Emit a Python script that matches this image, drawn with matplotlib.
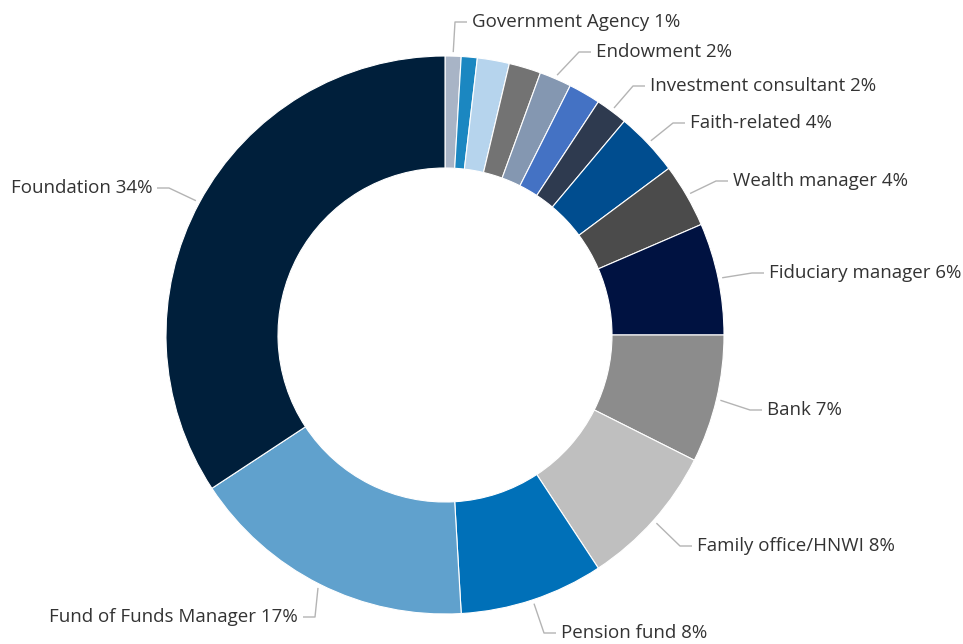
import numpy as np
import matplotlib
matplotlib.use("Agg")
import matplotlib.pyplot as plt

# Respondents by organisation type (counts)
categories = ["Government Agency", "", "", "", "Endowment", "",
              "Investment consultant", "Faith-related", "Wealth manager",
              "Fiduciary manager", "Bank", "Family office/HNWI",
              "Pension fund", "Fund of Funds Manager", "Foundation"]
counts = [1, 1, 2, 2, 2, 2, 2, 4, 4, 7, 8, 9, 9, 18, 37]
colors = ["#a8b4c6", "#1b87c1", "#b6d4ed", "#737373", "#8497b1", "#4472c4",
          "#2e3a4f", "#004d8f", "#4b4b4b", "#001241", "#8c8c8c", "#bfbfbf",
          "#0070b8", "#60a1cd", "#001f3b"]

# Label anchor points (pixels from top-left) and alignment for labelled slices
label_pos = {
    "Government Agency": (472, 22, "left"),
    "Endowment": (596, 52, "left"),
    "Investment consultant": (650, 86, "left"),
    "Faith-related": (690, 123, "left"),
    "Wealth manager": (733, 181, "left"),
    "Fiduciary manager": (769, 273, "left"),
    "Bank": (767, 410, "left"),
    "Family office/HNWI": (697, 546, "left"),
    "Pension fund": (561, 633, "left"),
    "Fund of Funds Manager": (298, 617, "right"),
    "Foundation": (152, 188, "right"),
}

W, H = 963, 644
fig = plt.figure(figsize=(W / 100, H / 100), dpi=100)
ax = fig.add_axes([0, 0, 1, 1])
ax.set_xlim(0, W)
ax.set_ylim(0, H)
ax.set_aspect("equal")
ax.axis("off")

cx, cy = 445, H - 335
R = 279
ring = 112

wedges, _ = ax.pie(counts, colors=colors, radius=R, center=(cx, cy),
                   startangle=90, counterclock=False,
                   wedgeprops=dict(width=ring, edgecolor="white", linewidth=0.8))
ax.set_xlim(0, W)
ax.set_ylim(0, H)

total = sum(counts)
for w, name, n in zip(wedges, categories, counts):
    if not name:
        continue
    pct = n / total * 100
    mid = np.deg2rad((w.theta1 + w.theta2) / 2)
    sx = cx + (R + 4) * np.cos(mid)
    sy = cy + (R + 4) * np.sin(mid)
    tx, ty_px, ha = label_pos[name]
    ty = H - ty_px
    if ha == "left":
        ex, hx = tx - 17, tx - 5
    else:
        ex, hx = tx + 17, tx + 5
    ax.plot([sx, ex, hx], [sy, ty, ty], color="#b4b4b4", lw=1.0,
            solid_capstyle="butt")
    ax.text(tx, ty, f"{name} {pct:.0f}%", ha=ha, va="center",
            fontsize=13.5, color="#333333", family="Open Sans")

fig.savefig("out.png", dpi=100, facecolor="white")
